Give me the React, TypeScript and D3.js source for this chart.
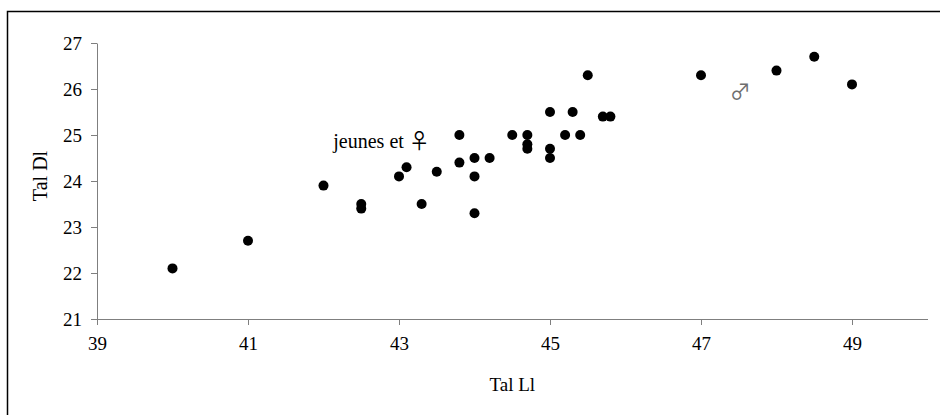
import React, { useEffect, useRef } from 'react';
import * as d3 from 'd3';

// Tal Ll (x) and Tal Dl (y) for each specimen
const talLl = [40, 41, 42, 42.5, 42.5, 43, 43.1, 43.3, 43.5, 43.8, 43.8, 44, 44, 44, 44.2, 44.5,
    44.7, 44.7, 44.7, 45, 45, 45, 45.2, 45.3, 45.4, 45.5, 45.7, 45.8, 47, 48, 48.5, 49];
const talDl = [22.1, 22.7, 23.9, 23.5, 23.4, 24.1, 24.3, 23.5, 24.2, 25.0, 24.4, 24.5, 24.1, 23.3, 24.5, 25.0,
    25.0, 24.8, 24.7, 25.5, 24.7, 24.5, 25.0, 25.5, 25.0, 26.3, 25.4, 25.4, 26.3, 26.4, 26.7, 26.1];

const xTicks = [39, 41, 43, 45, 47, 49];
const yTicks = [21, 22, 23, 24, 25, 26, 27];

const W = 940;
const H = 415;
const FONT = '"Liberation Serif", "Times New Roman", serif';
const SYM_FONT = '"Noto Sans CJK JP", "DejaVu Sans"';

const App: React.FC = () => {
    const ref = useRef<SVGSVGElement>(null);

    useEffect(() => {
        if (!ref.current) return;
        const svg = d3.select(ref.current);
        svg.selectAll('*').remove();

        const x = d3.scaleLinear().domain([39, 50]).range([97, 927.5]);
        const y = d3.scaleLinear().domain([21, 27]).range([319, 43]);

        // frame (only top and left visible in the crop)
        svg.append('path')
            .attr('d', `M7.5,${H} V11.5 H${W}`)
            .attr('fill', 'none')
            .attr('stroke', '#000')
            .attr('stroke-width', 1.5);

        const fmt = d3.format('d');
        const xAxis = svg.append('g')
            .attr('transform', `translate(0,${y(21)})`)
            .call(d3.axisBottom(x).tickValues(xTicks).tickFormat(fmt).tickSize(6).tickSizeOuter(0).tickPadding(12));
        const yAxis = svg.append('g')
            .attr('transform', `translate(${x(39)},0)`)
            .call(d3.axisLeft(y).tickValues(yTicks).tickFormat(fmt).tickSize(6).tickSizeOuter(0).tickPadding(9));

        [xAxis, yAxis].forEach(g => {
            g.attr('color', '#7f7f7f')
                .attr('font-family', null)
                .attr('font-size', null);
            g.selectAll('text')
                .attr('fill', '#000')
                .style('font-family', FONT)
                .style('font-size', '19px');
        });

        svg.append('text')
            .attr('x', (x(39) + x(50)) / 2)
            .attr('y', 391)
            .attr('text-anchor', 'middle')
            .style('font-family', FONT)
            .style('font-size', '19px')
            .text('Tal Ll');

        svg.append('text')
            .attr('transform', `translate(47,${(y(21) + y(27)) / 2 - 5}) rotate(-90)`)
            .attr('text-anchor', 'middle')
            .style('font-family', FONT)
            .style('font-size', '20px')
            .text('Tal Dl');

        svg.selectAll('circle.pt')
            .data(d3.range(talLl.length))
            .enter()
            .append('circle')
            .attr('class', 'pt')
            .attr('cx', i => x(talLl[i]))
            .attr('cy', i => y(talDl[i]))
            .attr('r', 5)
            .attr('fill', '#000');

        // "jeunes et ♀"
        const fem = svg.append('text')
            .attr('x', x(42.13))
            .attr('y', y(24.72))
            .style('font-family', FONT)
            .style('font-size', '20px');
        fem.append('tspan').text('jeunes et ');
        fem.append('tspan')
            .style('font-family', SYM_FONT)
            .style('font-size', '21px')
            .text('\u2640');

        // "♂"
        svg.append('text')
            .attr('x', x(47.42) - 3)
            .attr('y', y(25.8) + 1)
            .style('font-family', SYM_FONT)
            .style('font-size', '21px')
            .attr('fill', '#6e6e6e')
            .text('\u2642');
    }, []);

    return (
        <svg ref={ref} width={W} height={H}
            style={{ position: 'absolute', left: 0, top: 0, background: '#fff' }} />
    );
};

export default App;
